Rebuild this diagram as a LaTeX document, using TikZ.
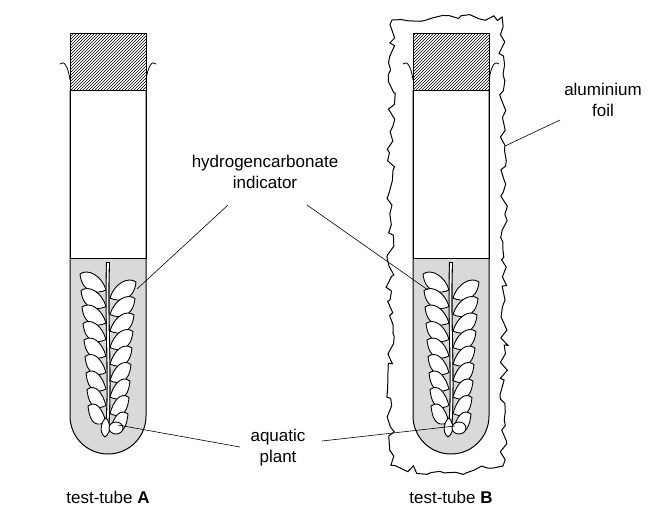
\documentclass[tikz,border=0pt]{standalone}
\usepackage{fontspec}
\setmainfont{Liberation Sans}
\usetikzlibrary{patterns,decorations.pathmorphing}
\begin{document}
\begin{tikzpicture}[x=1pt,y=-1pt,
  lbl/.style={font=\fontsize{17}{21}\selectfont,align=center,inner sep=1pt},
  ln/.style={line width=0.6pt},
  tube/.style={line width=1pt},
  leaf/.style={fill=white,line width=0.9pt}]
\useasboundingbox (0,0) rectangle (650,515);
\pgfmathsetseed{11}
% foil B
\draw[line width=1pt,fill=white,decoration={random steps,segment length=7pt,amplitude=4pt},decorate]
  (392,20) -- (502,17) -- (505,300) -- (503,466) .. controls (470,474) and (420,474) .. (391,465) -- (390,300) -- cycle;
\foreach \cx/\nm in {108/A,451/B}{
  \begin{scope}[shift={(\cx,0)}]
  \fill[gray!30] (-38,258) -- (38,258) -- (38,416) arc (0:180:38) -- cycle;
  \draw[tube,fill=white] (-38,90) rectangle (38,258);
  \draw[tube] (-38,258) -- (38,258);
  \draw[tube] (-38,90) -- (-38,416) arc (180:0:38) -- (38,90);
  \draw[tube,pattern=north east lines] (-38,33) rectangle (38,90);
  \draw[line width=0.8pt] (-38,80) .. controls (-40,66) and (-44,60) .. (-48,64);
  \draw[line width=0.8pt] (38,80) .. controls (40,66) and (44,60) .. (48,64);
  % stem
  \draw[line width=4pt] (0,262) .. controls (-2,330) and (3,380) .. (-1,432);
  \draw[line width=1.8pt,white] (0,263) .. controls (-2,330) and (3,380) .. (-1,431);
  \foreach \i in {0,...,8}{
    \pgfmathsetmacro{\yy}{290+\i*16.5}
    \pgfmathsetmacro{\ww}{26-\i*1}
    \draw[leaf] (-2,\yy) .. controls (-10,\yy+4) and (-\ww,\yy+4) .. (-\ww-2,\yy-16) .. controls (-\ww+6,\yy-22) and (-6,\yy-14) .. cycle;
    \draw[leaf] (2,\yy+8) .. controls (10,\yy+12) and (\ww,\yy+12) .. (\ww+2,\yy-8) .. controls (\ww-6,\yy-14) and (6,\yy-6) .. cycle;
  }
  \draw[leaf] (-3,437) .. controls (-10,432) and (-6,420) .. (-2,418) .. controls (2,422) and (4,432) .. cycle;
  \draw[leaf] (8,428) ellipse (7 and 6);
  \end{scope}
  \node[lbl] (t\nm) at (\cx,497) {test-tube \textbf{\nm}};
}
\node[lbl] (hi) at (265,172) {hydrogencarbonate\\indicator};
\node[lbl] (ap) at (278,448) {aquatic\\plant};
\node[lbl] (af) at (603,100) {aluminium\\foil};
\coordinate (hA) at (137,289); \coordinate (hB) at (428,290);
\coordinate (pA) at (118,425); \coordinate (pB) at (455,426);
\coordinate (fB) at (505,146);
\draw[ln] (228,205) -- (hA);
\draw[ln] (307,205) -- (hB);
\draw[ln] (240,447) -- (pA);
\draw[ln] (322,441) -- (pB);
\draw[ln] (560,120) -- (fB);
\end{tikzpicture}
\end{document}
